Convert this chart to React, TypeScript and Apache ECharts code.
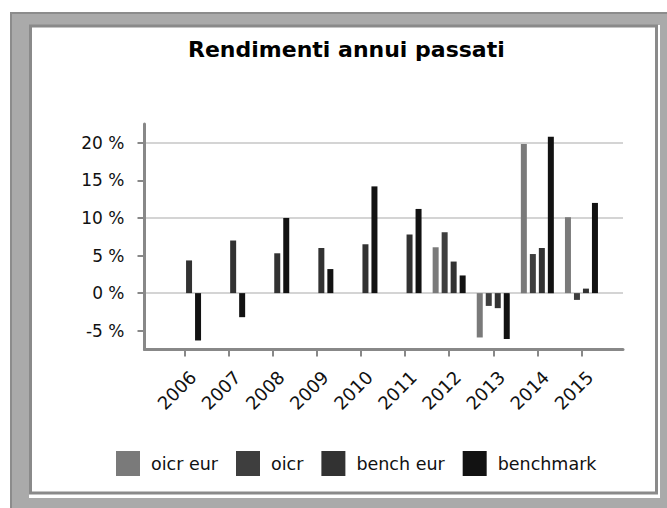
import React, { useEffect, useRef } from "react";
import * as echarts from "echarts";

const years = ["2006", "2007", "2008", "2009", "2010", "2011", "2012", "2013", "2014", "2015"];
const oicrEur = [null, null, null, null, null, null, 6.1, -5.9, 19.85, 10.1];
const oicr = [null, null, null, null, null, null, 8.1, -1.7, 5.2, -0.9];
const benchEur = [4.35, 7.0, 5.3, 6.0, 6.5, 7.8, 4.2, -2.0, 6.0, 0.6];
const benchmark = [-6.3, -3.2, 10.0, 3.2, 14.2, 11.2, 2.35, -6.1, 20.8, 12.0];
const yTicks = [-5, 0, 5, 10, 15, 20];
const seriesNames = ["oicr eur", "oicr", "bench eur", "benchmark"];
const seriesColors = ["#7a7a7a", "#3e3e3e", "#323232", "#121212"];

const FONT = "DejaVu Sans";

export default function App() {
  const ref = useRef<HTMLDivElement>(null);
  useEffect(() => {
    if (!ref.current) return;
    const chart = echarts.init(ref.current, undefined, { renderer: "svg" });
    const top = 124;
    const bottom = 158.5;
    const data = [oicrEur, oicr, benchEur, benchmark];
    chart.setOption({
      animation: false,
      backgroundColor: "#ffffff",
      textStyle: { fontFamily: FONT },
      graphic: [
        { type: "rect", z: -10, silent: true, shape: { x: 11, y: 13, width: 660, height: 500 }, style: { fill: "#aaaaaa", stroke: "#8c8c8c", lineWidth: 2 } },
        { type: "rect", z: -9, silent: true, shape: { x: 29, y: 25, width: 631, height: 473 }, style: { fill: "#ffffff" } },
        { type: "rect", z: -8, silent: true, shape: { x: 30.5, y: 26, width: 626, height: 467 }, style: { fill: "#ffffff", stroke: "#8a8a8a", lineWidth: 3 } },
      ],
      title: {
        text: "Rendimenti annui passati",
        left: 188,
        top: 38.5,
        padding: 0,
        textStyle: { fontFamily: FONT, fontSize: 22, fontWeight: "bold", color: "#000" },
      },
      legend: {
        data: seriesNames,
        left: 116,
        top: 451,
        padding: 0,
        icon: "rect",
        itemWidth: 24,
        itemHeight: 25,
        itemGap: 18,
        textStyle: { fontFamily: FONT, fontSize: 17.5, color: "#111", padding: [0, 0, 0, 6] },
      },
      grid: [
        { left: 144.5, right: 44, top, bottom },
        { left: 162.5, right: 63.5, top, bottom },
        { left: 171, right: 55, top, bottom },
      ],
      xAxis: [
        {
          gridIndex: 0, type: "category", data: [""],
          axisLine: { onZero: false, lineStyle: { color: "#888", width: 3 } },
          axisTick: { show: false }, axisLabel: { show: false }, splitLine: { show: false },
        },
        {
          gridIndex: 1, type: "category", data: years,
          axisLine: { show: false, onZero: false },
          axisTick: { show: true, alignWithLabel: true, length: 7, lineStyle: { color: "#888", width: 2 } },
          axisLabel: { show: false },
        },
        {
          gridIndex: 2, type: "category", data: years,
          axisLine: { show: false, onZero: false },
          axisTick: { show: false },
          axisLabel: { rotate: 45, fontFamily: FONT, fontSize: 18, color: "#111", margin: 24.5, interval: 0 },
        },
      ],
      yAxis: [
        {
          gridIndex: 0, type: "value", min: -7.5, max: 22.5, interval: 2.5,
          axisLine: { show: true, lineStyle: { color: "#888", width: 3 } },
          axisTick: { show: true, customValues: yTicks, length: 7, lineStyle: { color: "#888", width: 2 } },
          axisLabel: {
            customValues: yTicks, margin: 20, fontFamily: FONT, fontSize: 17, color: "#111",
            formatter: (v: number) => (Math.abs(v % 5) < 1e-9 ? `${v} %` : ""),
          },
          splitLine: { show: true, lineStyle: { color: ["transparent", "#d4d4d4"], width: 2 } },
        },
        { gridIndex: 1, type: "value", min: -7.5, max: 22.5, show: false, splitLine: { show: false } },
        { gridIndex: 2, type: "value", min: -7.5, max: 22.5, show: false, splitLine: { show: false } },
      ],
      series: seriesNames.map((name, i) => ({
        name,
        type: "bar",
        xAxisIndex: 1,
        yAxisIndex: 1,
        data: data[i].map((v) => (v === null ? "-" : v)),
        barWidth: 6,
        barGap: "50%",
        itemStyle: { color: seriesColors[i] },
      })),
    });
    return () => chart.dispose();
  }, []);
  return <div ref={ref} style={{ position: "absolute", left: 0, top: 0, width: 667, height: 508 }} />;
}
